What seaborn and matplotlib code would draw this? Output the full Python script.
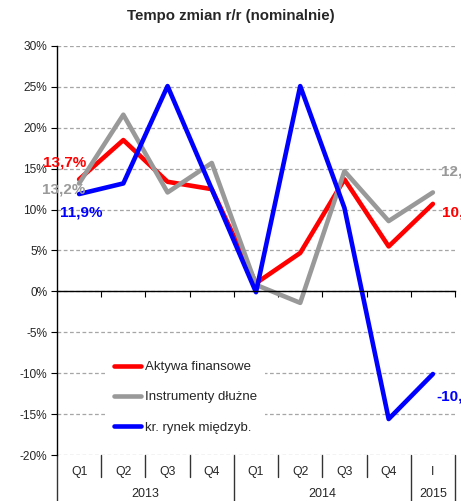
import matplotlib
matplotlib.use('Agg')
import matplotlib.pyplot as plt
import seaborn as sns

# Dane (r/r, %)
quarters = ['Q1', 'Q2', 'Q3', 'Q4', 'Q1', 'Q2', 'Q3', 'Q4', 'I']
years = ['2013', '2014', '2015']
year_lengths = [4, 4, 1]
aktywa = [13.7, 18.5, 13.4, 12.5, 1.0, 4.7, 13.7, 5.5, 10.7]
dluzne = [13.2, 21.6, 12.1, 15.7, 0.8, -1.4, 14.7, 8.6, 12.1]
miedzyb = [11.9, 13.2, 25.1, 12.5, -0.1, 25.1, 10.2, -15.6, -10.1]
series_names = ['Aktywa finansowe', 'Instrumenty dłużne', 'kr. rynek międzyb.']
colors = ['#ff0000', '#999999', '#0000ff']

sns.set_style('white')
plt.rcParams['font.family'] = ['Liberation Sans', 'DejaVu Sans']

fig = plt.figure(figsize=(4.61, 5.01), dpi=100)
ax = fig.add_axes([57 / 461, 46 / 501, 398 / 461, 409 / 501])

pos = list(range(len(quarters)))
for vals, color, name in zip([aktywa, dluzne, miedzyb], colors, series_names):
    sns.lineplot(x=pos, y=vals, color=color, linewidth=3.3, label=name, ax=ax, sort=False)

ax.set_xlim(-0.5, len(quarters) - 0.5)
ax.set_ylim(-20, 30)

# os Y + siatka
yt = list(range(-20, 31, 5))
ax.set_yticks(yt)
ax.set_yticklabels([f'{v}%' for v in yt], fontsize=8.6)
ax.yaxis.grid(True, linestyle=(0, (3, 2)), color='#a6a6a6', linewidth=0.9)
ax.set_axisbelow(True)
ax.tick_params(axis='y', direction='out', length=4, width=0.8, color='black', pad=3, left=True)

for s in ['top', 'right']:
    ax.spines[s].set_visible(False)
ax.spines['left'].set_color('black')
ax.spines['left'].set_linewidth(1)
ax.spines['bottom'].set_position(('data', 0))
ax.spines['bottom'].set_color('black')
ax.spines['bottom'].set_linewidth(1)

# kreski na osi 0 na granicach kategorii
ax.set_xticks([p + 0.5 for p in pos])
ax.set_xticklabels([])
ax.tick_params(axis='x', direction='out', length=4, width=0.8, color='black', bottom=True)
ax.set_xlabel('')
ax.set_ylabel('')

# dwupoziomowe etykiety kategorii pod wykresem
tr = ax.get_xaxis_transform()
year_edges = []
acc = 0
for n in year_lengths:
    acc += n
    year_edges.append(acc - 0.5)
for b in [-0.5] + [p + 0.5 for p in pos]:
    low = -0.112 if (b == -0.5 or b in year_edges) else -0.054
    ax.plot([b, b], [0, low], transform=tr, color='#333333', linewidth=1, clip_on=False)
for p, q in zip(pos, quarters):
    ax.text(p, -0.042, q, transform=tr, ha='center', va='center', fontsize=8.8)
start = 0
for y, n in zip(years, year_lengths):
    ax.text(start + (n - 1) / 2, -0.096, y, transform=tr, ha='center', va='center', fontsize=9)
    start += n

# etykiety wartości (pierwsza i ostatnia) - ostatnie ucięte przy krawędzi jak w oryginale
def fmt(v):
    return f'{v:.1f}%'.replace('.', ',')

first_offsets = [(-0.32, 2.0), (-0.35, -0.8), (0.05, -2.3)]
last_offsets = [(0.21, -1.1), (0.19, 2.5), (0.07, -2.7)]
for vals, color, fo, lo in zip([aktywa, dluzne, miedzyb], colors, first_offsets, last_offsets):
    ax.text(pos[0] + fo[0], vals[0] + fo[1], fmt(vals[0]), color=color, fontsize=11,
            fontweight='bold', ha='center', va='center')
    ax.text(pos[-1] + lo[0], vals[-1] + lo[1], fmt(vals[-1]), color=color, fontsize=11,
            fontweight='bold', ha='left', va='center', clip_on=False)

leg = ax.legend(loc='lower left', bbox_to_anchor=(0.108, 0.017), frameon=True, facecolor='white',
                edgecolor='none', framealpha=1, fancybox=False, fontsize=9.5, handlelength=2.0,
                handletextpad=0.3, labelspacing=1.35, borderpad=0.6)
for line in leg.get_lines():
    line.set_linewidth(3.3)

fig.text(0.5, 1 - 16 / 501, 'Tempo zmian r/r (nominalnie)', ha='center', va='center',
         fontweight='bold', fontsize=10.8)

fig.savefig('out.png', dpi=100)
